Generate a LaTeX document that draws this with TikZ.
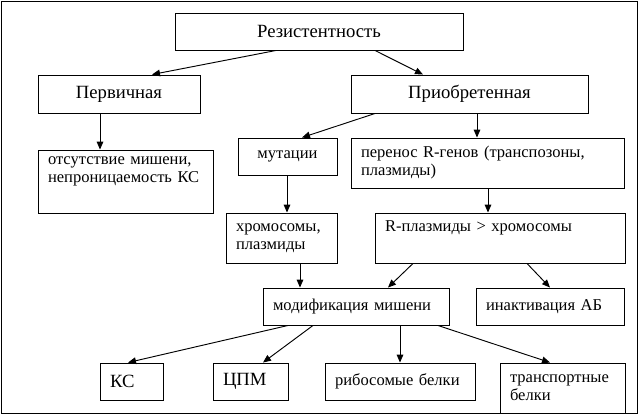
\documentclass[tikz,border=0pt]{standalone}
\usepackage{fontspec}
\setmainfont{Liberation Serif}
\usetikzlibrary{arrows.meta}
\newcommand{\pxu}{0.75pt}
\begin{document}
\begin{tikzpicture}[x=0.75pt,y=-0.75pt,line width=0.7pt,
    box/.style={draw,inner xsep=10*\pxu,inner ysep=0pt,
      font=\fontsize{12.4}{13.5}\selectfont},
    cbox/.style={box,align=center,font=\fontsize{14}{16}\selectfont},
    lbox/.style={box,align=left},
    >={Triangle[length=6pt,width=5pt]}]
      \useasboundingbox (0,0) rectangle (640,415);
      \draw (1,1) rectangle (637,413);
      \node[cbox,minimum width=288*\pxu,minimum height=37*\pxu] (resist) at (319,31.5) {Резистентность};
      \node[cbox,minimum width=162*\pxu,minimum height=38*\pxu] (perv) at (119,94) {Первичная};
      \node[cbox,minimum width=237*\pxu,minimum height=38*\pxu] (acq) at (469.5,94) {Приобретенная};
      \node[lbox,text width=155*\pxu,minimum height=63*\pxu] (absent) at (125.5,181.5) {отсутствие мишени,\\непроницаемость КС\\ \strut};
      \node[box,align=center,minimum width=99*\pxu,minimum height=37*\pxu] (mut) at (287.5,156.5) {мутации};
      \node[lbox,text width=253*\pxu,minimum height=50*\pxu] (transfer) at (487.5,163) {перенос R-генов (транспозоны,\\плазмиды)};
      \node[lbox,text width=91*\pxu,minimum height=50*\pxu] (chrom) at (281.5,238) {хромосомы,\\плазмиды};
      \node[lbox,text width=230*\pxu,minimum height=50*\pxu] (rplasm) at (500,238) {R-плазмиды > хромосомы\\ \strut};
      \node[lbox,text width=166*\pxu,minimum height=37*\pxu] (modif) at (356,306.5) {модификация мишени};
      \node[lbox,text width=128*\pxu,minimum height=37*\pxu] (inact) at (550,306.5) {инактивация АБ};
      \node[lbox,text width=43*\pxu,minimum height=37*\pxu,font=\fontsize{14}{16}\selectfont] (ks) at (131.5,381.5) {КС};
      \node[lbox,text width=55*\pxu,minimum height=37*\pxu,font=\fontsize{14}{16}\selectfont] (cpm) at (250.5,381.5) {ЦПМ};
      \node[lbox,text width=130*\pxu,minimum height=37*\pxu] (ribo) at (400,381.5) {рибосомые белки};
      \node[lbox,text width=105*\pxu,minimum height=50*\pxu] (transp) at (562.5,388) {транспортные\\белки};
      \begin{scope}[->]
        \draw (resist.south -| 276,0) to (perv.north -| 152,0);
        \draw (resist.south -| 375,0) to (acq.north -| 423,0);
        \draw (perv.south -| 100,0) to (absent.north -| 100,0);
        \draw (acq.south -| 375,0) to (mut.north -| 302,0);
        \draw (acq.south -| 477,0) to (transfer.north -| 477,0);
        \draw (mut.south -| 287,0) to (chrom.north -| 287,0);
        \draw (transfer.south -| 488,0) to (rplasm.north -| 488,0);
        \draw (chrom.south -| 300,0) to (modif.north -| 300,0);
        \draw (rplasm.south -| 413,0) to (modif.north -| 388,0);
        \draw (rplasm.south -| 527,0) to (inact.north -| 550,0);
        \draw (modif.south -| 288,0) to (ks.north -| 128,0);
        \draw (modif.south -| 313,0) to (cpm.north -| 263,0);
        \draw (modif.south -| 400,0) to (ribo.north -| 400,0);
        \draw (modif.south -| 438,0) to (transp.north -| 550,0);
      \end{scope}
    \end{tikzpicture}
\end{document}
